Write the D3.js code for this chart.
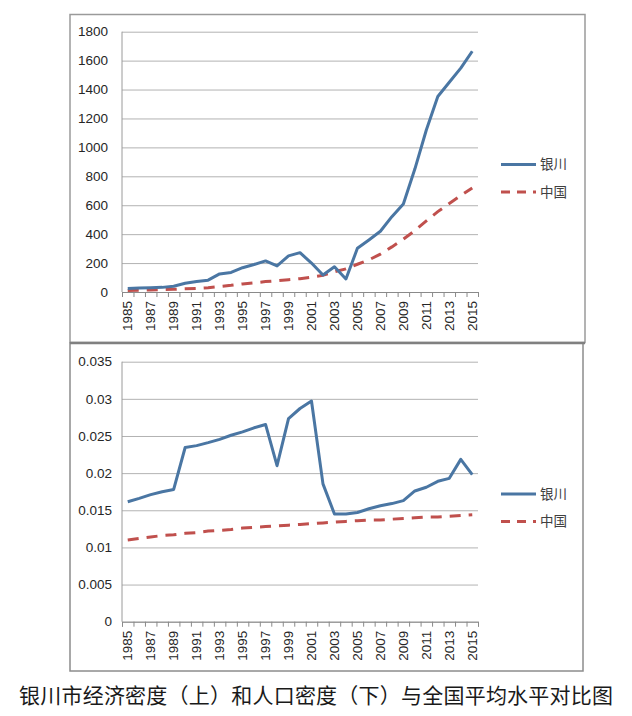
<!DOCTYPE html>
<html><head><meta charset="utf-8">
<script src="https://cdn.jsdelivr.net/npm/d3@7"></script>
<style>
body{margin:0;background:#fff;}
svg{display:block;}
</style></head>
<body>
<svg id="chart" width="632" height="716"></svg>
<script>
const years = d3.range(1985, 2016).map(String);
const yinchuanEcon = [25,28,30,32,40,60,72,82,125,135,168,190,215,180,250,272,200,118,175,90,302,360,420,521,609,850,1120,1352,1450,1548,1665];
const chinaEcon = [10,12,14,17,19,22,25,30,38,46,56,63,72,78,85,92,103,115,140,160,192,222,262,312,365,425,492,556,612,667,720];
const yinchuanPop = [0.01615,0.0166,0.0171,0.0175,0.0178,0.02345,0.0237,0.0241,0.02455,0.0251,0.02555,0.0261,0.02655,0.0210,0.02735,0.0287,0.0297,0.01855,0.0145,0.0145,0.0147,0.0152,0.0156,0.0159,0.0163,0.0176,0.0181,0.0189,0.0193,0.02185,0.0198];
const chinaPop = [0.0110,0.0112,0.0114,0.0116,0.0117,0.0119,0.0120,0.0122,0.0123,0.0124,0.0126,0.0127,0.0128,0.0129,0.0130,0.0131,0.0132,0.0133,0.0134,0.0135,0.0136,0.0137,0.0137,0.0138,0.0139,0.0140,0.0141,0.0141,0.0142,0.0143,0.0144];
const econTicks = d3.range(0, 1801, 200);
const popTicks = [0,0.005,0.01,0.015,0.02,0.025,0.03,0.035];
const popTickLabels = ["0","0.005","0.01","0.015","0.02","0.025","0.03","0.035"];
const seriesNames = ["银川","中国"];
const caption = "银川市经济密度（上）和人口密度（下）与全国平均水平对比图";

const BLUE = "#4a76a3", RED = "#c0504d";
const svg = d3.select("#chart");
const numFont = "'Liberation Sans', Arial, sans-serif";
const cjkFont = "'Noto Sans CJK SC', sans-serif";

// panel frames
svg.append("rect").attr("x",70).attr("y",14.5).attr("width",515).attr("height",328)
  .attr("fill","none").attr("stroke","#9a9a9a").attr("stroke-width",1.5);
svg.append("rect").attr("x",70).attr("y",343).attr("width",513).attr("height",328)
  .attr("fill","none").attr("stroke","#8c8c8c").attr("stroke-width",1.5);
svg.append("line").attr("x1",70).attr("x2",585).attr("y1",343).attr("y2",343)
  .attr("stroke","#808080").attr("stroke-width",2.5);

function panel(cfg){
  const g = svg.append("g");
  const x0 = 122, x1 = 478;
  const xb = d3.scaleBand().domain(years).range([x0,x1]).padding(0);
  const xi = d3.scaleLinear().domain([0, years.length]).range([x0,x1]);
  const y = d3.scaleLinear().domain(cfg.domain).range([cfg.bottom, cfg.top]);
  // grid
  const grid = g.append("g").attr("transform",`translate(${x0},0)`)
    .call(d3.axisLeft(y).tickValues(cfg.ticks).tickSize(-(x1-x0)).tickFormat(""));
  grid.select(".domain").remove();
  grid.selectAll("line").attr("stroke","#b3b3b3").attr("stroke-width",1);
  // y labels
  cfg.ticks.forEach((t,i)=>{
    g.append("text").attr("x",cfg.labelX).attr("y",y(t)).attr("dy","0.35em")
      .attr("text-anchor","end").attr("font-family",numFont).attr("font-size",13.5)
      .attr("fill","#262626").text(cfg.tickLabels[i]);
  });
  // y axis line
  g.append("line").attr("x1",x0).attr("x2",x0).attr("y1",cfg.top).attr("y2",cfg.bottom)
    .attr("stroke","#9a9a9a").attr("stroke-width",1);
  // x axis ticks between categories
  const xa = g.append("g").attr("transform",`translate(0,${cfg.bottom})`)
    .call(d3.axisBottom(xi).tickValues(d3.range(0, years.length+1)).tickSize(5).tickFormat(""));
  xa.selectAll("line,path").attr("stroke","#8a8a8a");
  // x labels
  const xl = g.append("g").attr("transform",`translate(0,${cfg.bottom})`)
    .call(d3.axisBottom(xb).tickValues(years.filter((d,i)=>i%2===0)).tickSize(0));
  xl.select(".domain").remove();
  xl.selectAll("text").attr("font-family",numFont).attr("font-size",13.5).attr("fill","#262626")
    .attr("transform","rotate(-90)").attr("text-anchor","end")
    .attr("x",-9).attr("y",0).attr("dy","0.35em");
  const line = d3.line().x((d,i)=>xb(years[i])+xb.bandwidth()/2).y(d=>y(d));
  g.append("path").datum(cfg.china).attr("d",line).attr("fill","none")
    .attr("stroke",RED).attr("stroke-width",3).attr("stroke-dasharray","11,8");
  g.append("path").datum(cfg.yin).attr("d",line).attr("fill","none")
    .attr("stroke",BLUE).attr("stroke-width",3).attr("stroke-linejoin","round");
  // legend
  const lg = g.append("g");
  lg.append("line").attr("x1",501).attr("x2",536).attr("y1",cfg.leg[0]).attr("y2",cfg.leg[0])
    .attr("stroke",BLUE).attr("stroke-width",3);
  lg.append("line").attr("x1",501).attr("x2",536).attr("y1",cfg.leg[1]).attr("y2",cfg.leg[1])
    .attr("stroke",RED).attr("stroke-width",3).attr("stroke-dasharray","9,7");
  seriesNames.forEach((n,i)=>{
    lg.append("text").attr("x",540).attr("y",cfg.leg[i]).attr("dy","0.36em")
      .attr("font-family",cjkFont).attr("font-size",13.5).attr("fill","#404040").text(n);
  });
}

panel({domain:[0,1800], top:31.7, bottom:292, ticks:econTicks, tickLabels:econTicks.map(String),
  labelX:108, yin:yinchuanEcon, china:chinaEcon, leg:[164.5,192]});
panel({domain:[0,0.035], top:361.7, bottom:621.7, ticks:popTicks, tickLabels:popTickLabels,
  labelX:112, yin:yinchuanPop, china:chinaPop, leg:[494,521.5]});

svg.append("text").attr("x",316).attr("y",703).attr("text-anchor","middle")
  .attr("font-family",cjkFont).attr("font-size",21).attr("fill","#1a1a1a")
  .attr("textLength",594).attr("lengthAdjust","spacing").text(caption);
</script>
</body></html>
